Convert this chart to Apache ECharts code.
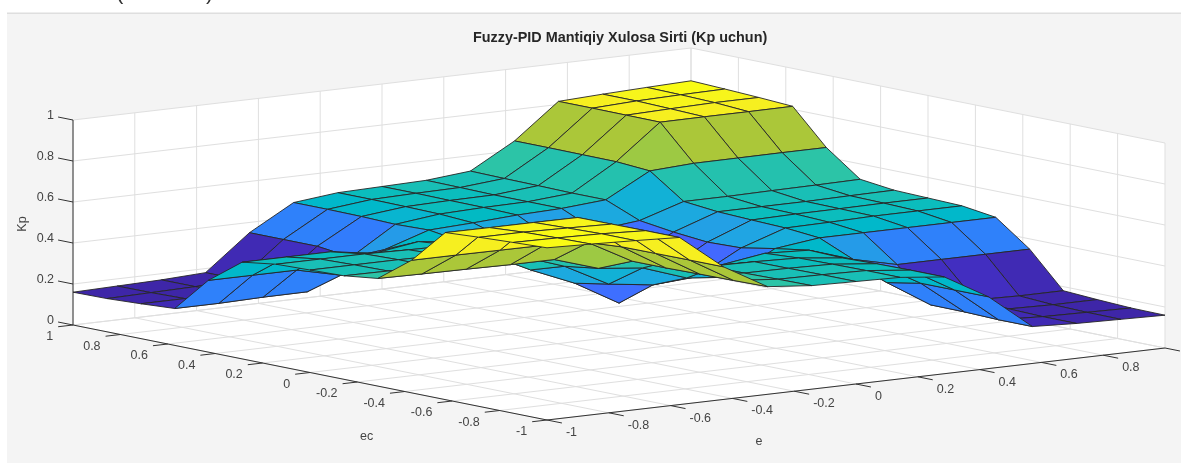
<!DOCTYPE html>
<html>
<head>
<meta charset="utf-8">
<style>html,body{margin:0;padding:0;background:#fff}#c{width:1181px;height:463px}</style>
<script src="https://cdn.jsdelivr.net/npm/echarts@6/dist/echarts.min.js"></script>
</head>
<body>
<div id="c"></div>
<script>
const titleText = 'Fuzzy-PID Mantiqiy Xulosa Sirti (Kp uchun)';
const eLabel = 'e', ecLabel = 'ec', zLabel = 'Kp';
const eTicks = [-1,-0.8,-0.6,-0.4,-0.2,0,0.2,0.4,0.6,0.8,1];
const ecTicks = [-1,-0.8,-0.6,-0.4,-0.2,0,0.2,0.4,0.6,0.8,1];
const zTicks = [0,0.2,0.4,0.6,0.8,1];
const eTickLabels = ['-1','-0.8','-0.6','-0.4','-0.2','0','0.2','0.4','0.6','0.8',''];
const ecTickLabels = ['-1','-0.8','-0.6','-0.4','-0.2','0','0.2','0.4','0.6','0.8','1'];
const zTickLabels = ['0','0.2','0.4','0.6','0.8','1'];
// mesh: 15 points from -1 to 1
const eGrid = [-1,-0.857,-0.714,-0.571,-0.429,-0.286,-0.143,0,0.143,0.286,0.429,0.571,0.714,0.857,1];
const ecGrid = [-1,-0.857,-0.714,-0.571,-0.429,-0.286,-0.143,0,0.143,0.286,0.429,0.571,0.714,0.857,1];
// Kp[row for ec][column for e]
const Kp = [
 [.84,.833,.825,.815,.647,.525,.505,.50,.495,.472,.35,.18,.17,.165,.16],
 [.833,.83,.825,.815,.647,.522,.503,.50,.495,.472,.35,.18,.17,.166,.162],
 [.825,.825,.82,.814,.646,.52,.50,.498,.493,.47,.35,.185,.175,.17,.17],
 [.815,.814,.814,.813,.645,.517,.50,.497,.49,.465,.32,.186,.185,.18,.18],
 [.647,.647,.646,.645,.633,.517,.50,.448,.48,.47,.40,.35,.35,.35,.35],
 [.525,.522,.52,.517,.517,.449,.426,.352,.33,.445,.472,.472,.472,.472,.472],
 [.505,.503,.50,.50,.50,.426,.314,.285,.30,.415,.487,.49,.495,.495,.495],
 [.50,.50,.50,.497,.479,.375,.285,.163,.285,.41,.493,.497,.498,.50,.50],
 [.495,.495,.495,.49,.487,.43,.33,.285,.314,.426,.50,.50,.50,.503,.505],
 [.472,.472,.472,.44,.472,.445,.43,.41,.426,.449,.517,.517,.52,.522,.525],
 [.35,.35,.35,.30,.40,.47,.48,.493,.50,.517,.633,.645,.646,.647,.647],
 [.18,.18,.185,.186,.33,.465,.49,.497,.50,.517,.645,.813,.814,.814,.815],
 [.17,.17,.175,.185,.35,.47,.493,.498,.50,.52,.646,.814,.82,.825,.825],
 [.162,.166,.17,.18,.35,.472,.495,.50,.503,.522,.647,.815,.825,.83,.833],
 [.16,.165,.17,.18,.35,.472,.495,.50,.505,.525,.647,.815,.825,.833,.84]
];
const parula = [
[.2422,.1504,.6603],[.2504,.1650,.7076],[.2578,.1818,.7511],[.2647,.1978,.7952],[.2706,.2147,.8364],[.2751,.2342,.8710],[.2783,.2559,.8991],[.2803,.2782,.9221],
[.2813,.3006,.9414],[.2810,.3228,.9579],[.2795,.3447,.9717],[.2760,.3667,.9829],[.2699,.3892,.9906],[.2602,.4123,.9952],[.2440,.4358,.9988],[.2206,.4603,.9973],
[.1963,.4847,.9892],[.1834,.5074,.9798],[.1786,.5289,.9682],[.1764,.5499,.9520],[.1687,.5703,.9359],[.1540,.5902,.9218],[.1460,.6091,.9079],[.1380,.6276,.8973],
[.1248,.6459,.8883],[.1113,.6635,.8763],[.0952,.6798,.8598],[.0689,.6948,.8394],[.0297,.7082,.8163],[.0036,.7203,.7917],[.0067,.7312,.7660],[.0433,.7411,.7394],
[.0964,.7500,.7120],[.1408,.7584,.6842],[.1717,.7670,.6554],[.1938,.7758,.6251],[.2161,.7843,.5923],[.2470,.7918,.5567],[.2906,.7973,.5188],[.3406,.8008,.4789],
[.3909,.8029,.4354],[.4456,.8024,.3909],[.5044,.7993,.3480],[.5616,.7942,.3045],[.6174,.7876,.2612],[.6720,.7793,.2227],[.7242,.7698,.1910],[.7738,.7598,.1646],
[.8203,.7498,.1535],[.8634,.7406,.1596],[.9035,.7330,.1774],[.9393,.7288,.2100],[.9728,.7298,.2394],[.9956,.7434,.2371],[.9970,.7659,.2199],[.9952,.7893,.2028],
[.9892,.8136,.1885],[.9786,.8386,.1766],[.9676,.8639,.1643],[.9610,.8890,.1537],[.9597,.9135,.1423],[.9628,.9373,.1265],[.9691,.9606,.1064],[.9769,.9839,.0805]];

const zMin = Math.min(...Kp.flat()), zMax = Math.max(...Kp.flat());
function colorOf(z){
  const k = Math.max(0, Math.min(63, Math.floor((z - zMin) / (zMax - zMin) * 64)));
  const c = parula[k];
  return 'rgb(' + c.map(v => Math.round(v * 255)).join(',') + ')';
}
// orthographic view of the axes box
const view = {ox:547, oy:420, ex:309, ey:-36, cx:-237, cy:-47.5, zy:-205};
function project(e, ec, z){
  return [view.ox + view.ex*(e+1) + view.cx*(ec+1), view.oy + view.ey*(e+1) + view.cy*(ec+1) + view.zy*z];
}
const FONT = '"Liberation Sans", Arial, sans-serif';
const GRID = '#dfdfdf', AXIS = '#333333', TXT = '#444444';

const gridSegs = [], axisSegs = [], labels = [];
eTicks.forEach(t => {
  gridSegs.push([t,-1,0,t,1,0]);
  gridSegs.push([t,1,0,t,1,1]);
});
ecTicks.forEach(t => {
  gridSegs.push([-1,t,0,1,t,0]);
  gridSegs.push([1,t,0,1,t,1]);
});
zTicks.forEach(t => {
  gridSegs.push([-1,1,t,1,1,t]);
  gridSegs.push([1,1,t,1,-1,t]);
});
axisSegs.push([-1,1,0,-1,1,1],[-1,1,0,-1,-1,0],[-1,-1,0,1,-1,0]);
const tickLen = 0.063;
zTicks.forEach((t,k) => {
  axisSegs.push([-1,1,t,-1,1+tickLen,t]);
  labels.push([-1,1+tickLen,t,zTickLabels[k],-4,-1,'right']);
});
ecTicks.forEach((t,k) => {
  axisSegs.push([-1,t,0,-1-0.048,t,0]);
  labels.push([-1-0.048,t,0,ecTickLabels[k],-5,10,'right']);
});
eTicks.forEach((t,k) => {
  axisSegs.push([t,-1,0,t,-1-tickLen,0]);
  if (eTickLabels[k]) labels.push([t,-1-tickLen,0,eTickLabels[k],4,9.5,'left']);
});
// mesh cells listed far to near so nearer cells paint over farther ones
const cells = [];
for (let i = 13; i >= 0; i--) for (let j = 13; j >= 0; j--) cells.push([i, j]);

function segItem(params, api, color){
  const d = params.dataIndex, s = params.seriesName === 'grid' ? gridSegs[d] : axisSegs[d];
  const a = api.coord(project(s[0],s[1],s[2])), b = api.coord(project(s[3],s[4],s[5]));
  return {type:'line', shape:{x1:a[0],y1:a[1],x2:b[0],y2:b[1]}, style:{stroke:color, lineWidth:1, fill:null}, silent:true};
}
const option = {
  animation:false,
  backgroundColor:'#ffffff',
  title:{text:titleText, left:473, top:30.5,
    textStyle:{fontFamily:FONT, fontSize:14.4, fontWeight:'bold', lineHeight:16, color:'#262626'}, padding:0},
  grid:{left:0,right:0,top:0,bottom:0},
  xAxis:{type:'value',min:0,max:1181,show:false},
  yAxis:{type:'value',min:0,max:463,inverse:true,show:false},
  graphic:[
    {type:'rect',shape:{x:7,y:14,width:1174,height:449},style:{fill:'#f4f4f4'},z:-1,silent:true},
    {type:'rect',shape:{x:7,y:12.5,width:1174,height:1.5},style:{fill:'#dedede'},z:-1,silent:true},
    {type:'text',x:116,y:-18,style:{text:'(',font:'22px '+FONT,fill:'#333'},z:-1,silent:true},
    {type:'text',x:206,y:-18,style:{text:')',font:'22px '+FONT,fill:'#333'},z:-1,silent:true}
  ],
  series:[
    {type:'custom',name:'box',coordinateSystem:'cartesian2d',z:1,silent:true,data:[[0]],
     renderItem:(p,api)=>{
       const pts=[[-1,1,1],[1,1,1],[1,-1,1],[1,-1,0],[-1,-1,0],[-1,1,0]].map(q=>api.coord(project(q[0],q[1],q[2])));
       return {type:'polygon',shape:{points:pts},style:{fill:'#ffffff'}};
     }},
    {type:'custom',name:'grid',coordinateSystem:'cartesian2d',z:2,silent:true,data:gridSegs.map((s,i)=>[i]),
     renderItem:(p,api)=>segItem(p,api,GRID)},
    {type:'custom',name:'axis',coordinateSystem:'cartesian2d',z:3,silent:true,data:axisSegs.map((s,i)=>[i]),
     renderItem:(p,api)=>segItem(p,api,AXIS)},
    {type:'custom',name:'labels',coordinateSystem:'cartesian2d',z:3,silent:true,data:labels.map((s,i)=>[i]),
     renderItem:(p,api)=>{
       const l=labels[p.dataIndex], c=api.coord(project(l[0],l[1],l[2]));
       return {type:'text',x:c[0]+l[4],y:c[1]+l[5],style:{text:l[3],font:'12.5px '+FONT,fill:TXT,align:l[6],verticalAlign:'middle'}};
     }},
    {type:'custom',name:'Kp',coordinateSystem:'cartesian2d',z:4,silent:true,data:cells,
     renderItem:(p,api)=>{
       const [i,j]=cells[p.dataIndex];
       const corners=[[i,j],[i,j+1],[i+1,j+1],[i+1,j]];
       const pts=corners.map(q=>api.coord(project(eGrid[q[1]],ecGrid[q[0]],Kp[q[0]][q[1]])));
       return {type:'polygon',shape:{points:pts},style:{fill:colorOf(Kp[i][j]),stroke:'#262626',lineWidth:0.9,lineJoin:'round'}};
     }},
    {type:'custom',name:'axisNames',coordinateSystem:'cartesian2d',z:3,silent:true,
     data:[[366.7,437,0],[759,442,0],[23,224,1]],
     renderItem:(p,api)=>{
       const c=api.coord([api.value(0),api.value(1)]);
       const t=[ecLabel,eLabel,zLabel][p.dataIndex], r=api.value(2);
       return {type:'text',x:c[0],y:c[1],rotation:r?Math.PI/2:0,style:{text:t,font:'12.5px '+FONT,fill:TXT,align:'center',verticalAlign:'middle'}};
     }}
  ]
};
const chart = echarts.init(document.getElementById('c'),null,{renderer:'canvas'});
chart.setOption(option);
</script>
</body>
</html>
